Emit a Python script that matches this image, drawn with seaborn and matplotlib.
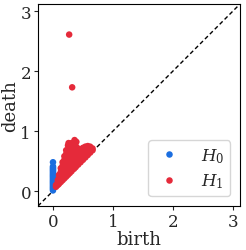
import pandas as pd
import matplotlib
matplotlib.use("Agg")
import matplotlib.pyplot as plt
import seaborn as sns

# H0: todos nascem em 0
h0_death = [0.01, 0.03, 0.05, 0.07, 0.09, 0.11, 0.13, 0.15, 0.17, 0.19, 0.21,
            0.23, 0.25, 0.27, 0.29, 0.31, 0.33, 0.35, 0.37, 0.39, 0.41, 0.48]
h0_birth = [0.0] * len(h0_death)

# H1: pontos (birth, death)
h1_points = [
    (0.05, 0.07), (0.05, 0.10),
    (0.08, 0.10), (0.08, 0.14), (0.08, 0.18),
    (0.10, 0.12), (0.10, 0.17), (0.10, 0.22), (0.10, 0.27),
    (0.13, 0.15), (0.13, 0.20), (0.13, 0.26), (0.13, 0.32), (0.13, 0.38),
    (0.16, 0.18), (0.16, 0.24), (0.16, 0.30), (0.16, 0.36), (0.16, 0.42), (0.16, 0.48),
    (0.19, 0.21), (0.19, 0.27), (0.19, 0.33), (0.19, 0.39), (0.19, 0.45), (0.19, 0.52), (0.19, 0.58),
    (0.22, 0.24), (0.22, 0.30), (0.22, 0.36), (0.22, 0.42), (0.22, 0.48), (0.22, 0.55), (0.22, 0.62), (0.22, 0.68),
    (0.25, 0.27), (0.25, 0.33), (0.25, 0.40), (0.25, 0.47), (0.25, 0.54), (0.25, 0.61), (0.25, 0.68), (0.25, 0.76), (0.26, 0.80),
    (0.28, 0.30), (0.28, 0.37), (0.28, 0.44), (0.28, 0.51), (0.28, 0.58), (0.28, 0.65), (0.28, 0.72), (0.28, 0.78),
    (0.31, 0.33), (0.31, 0.40), (0.31, 0.47), (0.31, 0.54), (0.31, 0.61), (0.31, 0.68), (0.31, 0.75), (0.31, 0.80),
    (0.35, 0.37), (0.35, 0.44), (0.35, 0.51), (0.35, 0.58), (0.35, 0.65), (0.35, 0.72), (0.35, 0.80), (0.36, 0.85),
    (0.38, 0.40), (0.38, 0.47), (0.38, 0.54), (0.38, 0.61), (0.38, 0.68), (0.38, 0.75), (0.39, 0.82),
    (0.42, 0.44), (0.42, 0.51), (0.42, 0.58), (0.42, 0.65), (0.42, 0.71),
    (0.46, 0.48), (0.46, 0.55), (0.46, 0.62), (0.46, 0.69),
    (0.50, 0.52), (0.50, 0.59), (0.50, 0.66), (0.50, 0.72),
    (0.54, 0.56), (0.54, 0.63), (0.54, 0.70), (0.54, 0.74),
    (0.58, 0.60), (0.58, 0.66), (0.58, 0.72), (0.58, 0.75),
    (0.62, 0.64), (0.62, 0.70), (0.62, 0.74),
    (0.66, 0.68), (0.66, 0.71),
    (0.27, 2.61), (0.32, 1.73),
]

df0 = pd.DataFrame({'birth': h0_birth, 'death': h0_death, 'dim': '$H_0$'})
df1 = pd.DataFrame(h1_points, columns=['birth', 'death'])
df1['dim'] = '$H_1$'
df = pd.concat([df0, df1], ignore_index=True)

sns.set_style('ticks')
plt.rcParams['font.family'] = ['DejaVu Serif']
plt.rcParams['mathtext.fontset'] = 'dejavuserif'

fig = plt.figure(figsize=(2.46, 2.51), dpi=100)
ax = fig.add_axes([38 / 246, 44 / 251, 202 / 246, 202 / 251])

lims = (-0.25, 3.12)
ax.plot(lims, lims, '--', color='black', lw=1.0, dashes=(3, 2), zorder=1)
sns.scatterplot(data=df, x='birth', y='death', hue='dim',
                palette=['#1b6ee0', '#e52a3a'], s=22, linewidth=0,
                ax=ax, zorder=2)

ax.set_xlim(lims)
ax.set_ylim(lims)
ax.set_xticks([0, 1, 2, 3])
ax.set_yticks([0, 1, 2, 3])
ax.tick_params(labelsize=12, length=3, width=0.8, pad=2)
ax.set_xlabel('birth', fontsize=13, labelpad=0)
ax.set_ylabel('death', fontsize=13, labelpad=1)
for sp in ax.spines.values():
    sp.set_linewidth(0.8)
    sp.set_color('black')

ax.legend(loc='lower right', fontsize=12, title=None, markerscale=1.0,
          handletextpad=1.0, borderpad=0.35, labelspacing=0.4,
          handlelength=1.8, borderaxespad=0.6)

plt.savefig('out.png', dpi=100)
